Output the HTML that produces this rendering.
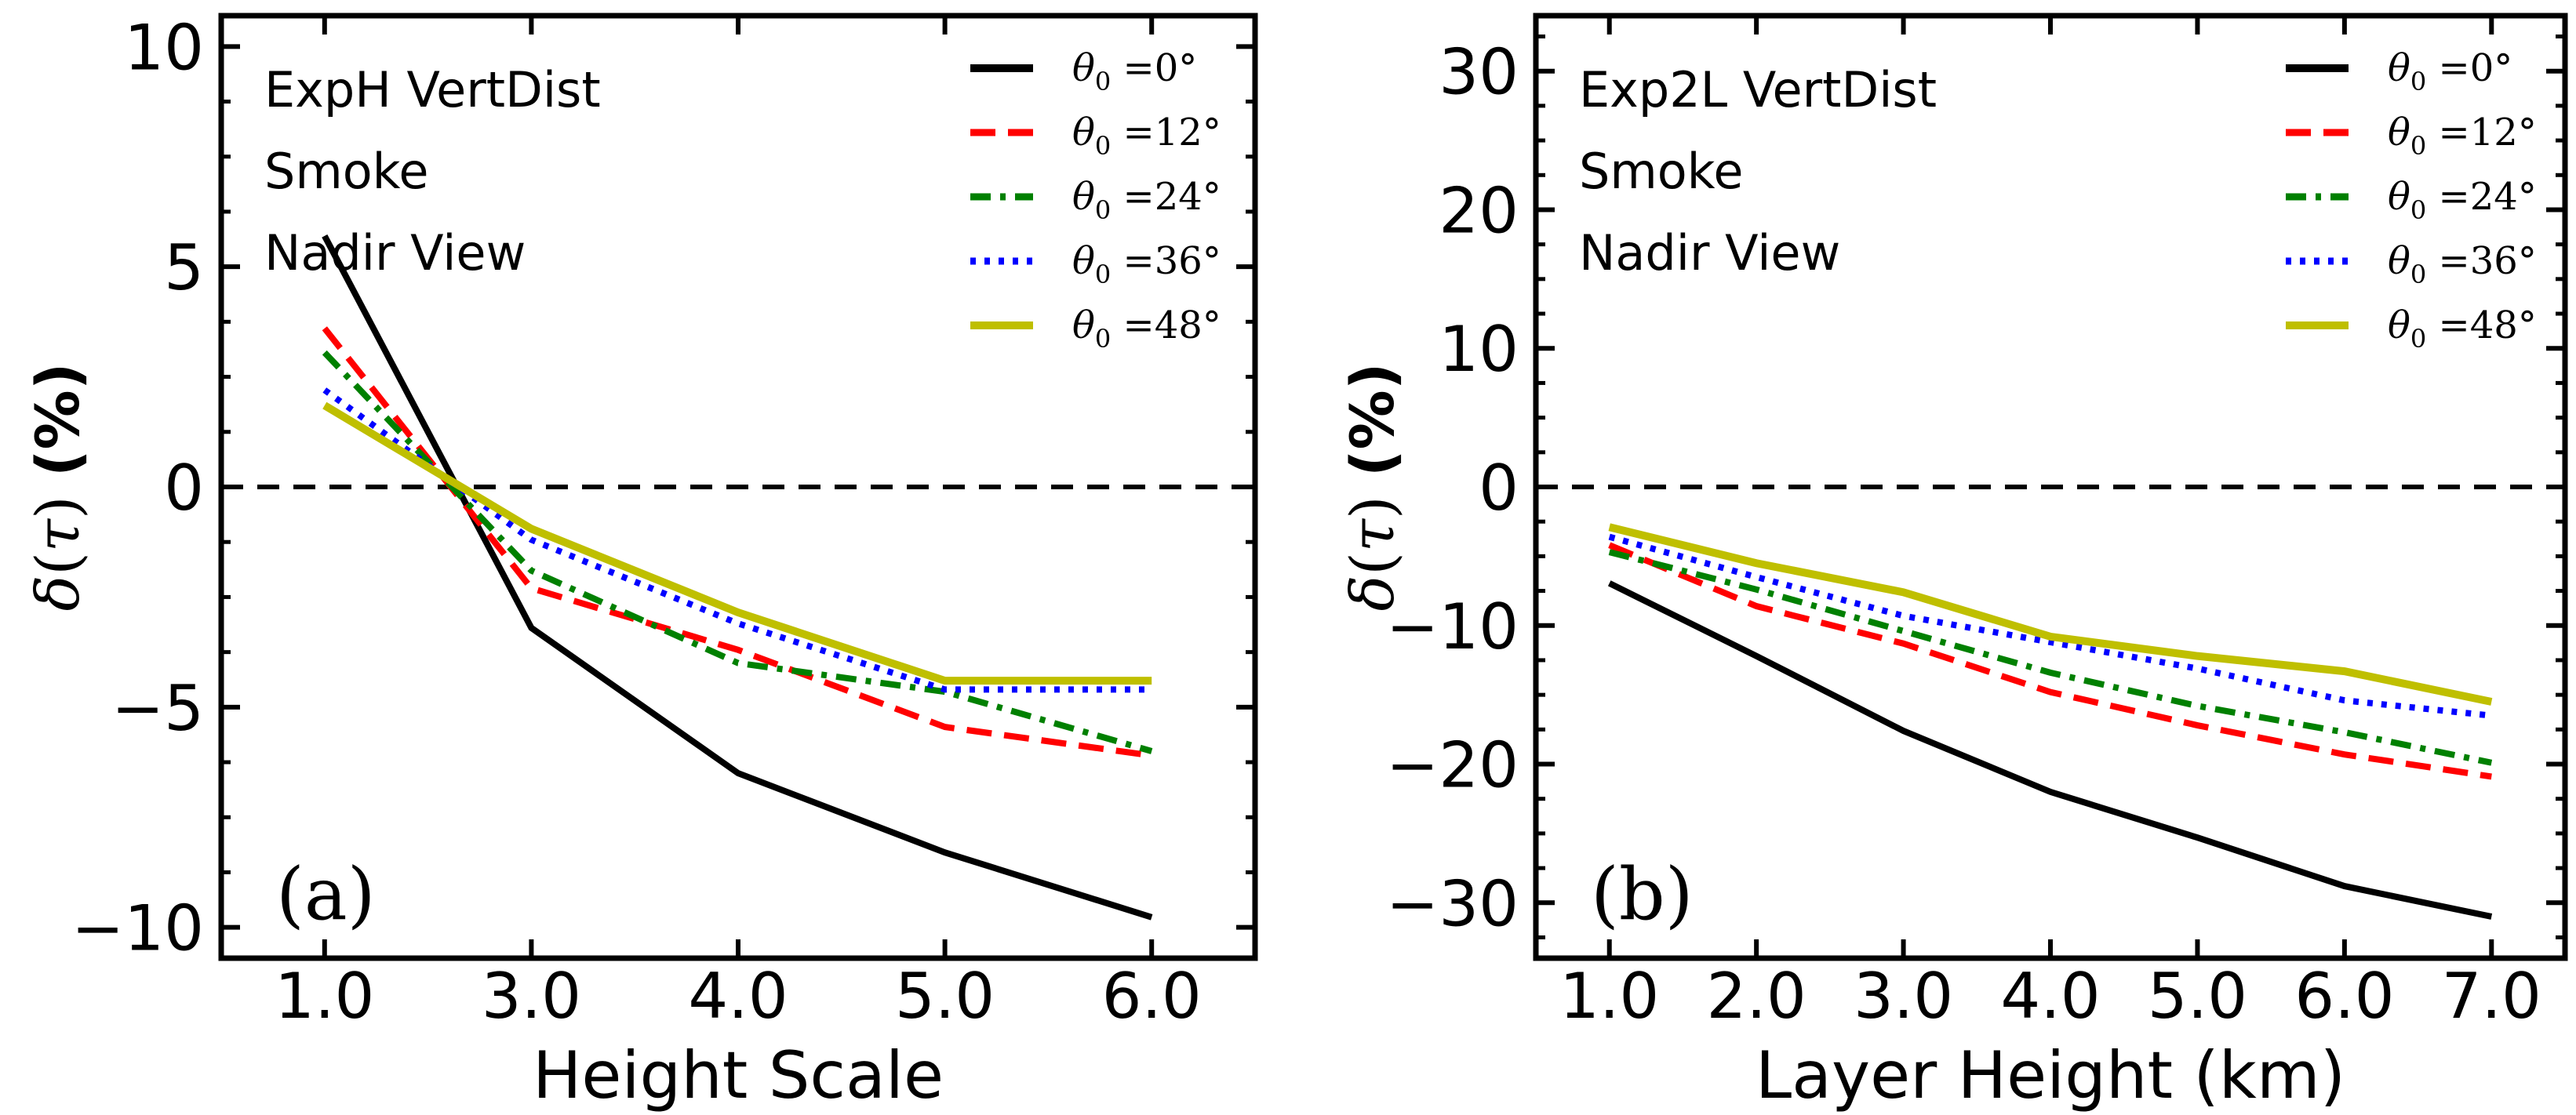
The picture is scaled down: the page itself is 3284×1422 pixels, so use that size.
<!DOCTYPE html>
<html><head><meta charset="utf-8"><style>
html,body{margin:0;padding:0;background:#fff}
svg{display:block}
text{font-family:"DejaVu Sans","Liberation Sans",sans-serif;fill:#000}
.serif{font-family:"DejaVu Serif","Liberation Serif",serif}
</style></head><body>
<svg id="chart" width="3284" height="1422" viewBox="0 0 3284 1422" xmlns="http://www.w3.org/2000/svg"></svg>
<script>
const seriesLabels = ["0","12","24","36","48"];
const catsA = ["1.0","3.0","4.0","5.0","6.0"];
const a0 = [5.7,-3.2,-6.5,-8.3,-9.77];
const a12 = [3.6,-2.3,-3.7,-5.45,-6.1];
const a24 = [3.05,-1.9,-4.0,-4.65,-6.0];
const a36 = [2.2,-1.2,-3.1,-4.6,-4.6];
const a48 = [1.85,-0.95,-2.85,-4.4,-4.4];
const catsB = ["1.0","2.0","3.0","4.0","5.0","6.0","7.0"];
const b0 = [-6.95,-12.2,-17.6,-22,-25.3,-28.8,-31];
const b12 = [-4.2,-8.6,-11.3,-14.8,-17.2,-19.3,-20.9];
const b24 = [-4.7,-7.4,-10.4,-13.4,-15.8,-17.7,-19.9];
const b36 = [-3.6,-6.5,-9.3,-11.2,-13.1,-15.4,-16.5];
const b48 = [-2.9,-5.5,-7.6,-10.8,-12.2,-13.3,-15.5];
const yTicksA = [10,5,0,-5,-10];
const yTicksB = [30,20,10,0,-10,-20,-30];

const NS="http://www.w3.org/2000/svg";
const svg=document.getElementById('chart');
function mk(tag,attrs,parent){const e=document.createElementNS(NS,tag);for(const k in attrs)e.setAttribute(k,attrs[k]);(parent||svg).appendChild(e);return e;}
const styles=[
 {c:"#000",d:""},
 {c:"#ff0000",d:"32 16"},
 {c:"#008000",d:"26 12 7 12"},
 {c:"#0000ff",d:"7 11"},
 {c:"#bfbf00",d:""}
];
function panel(id,L,R,T,B,cats,series,ymin,ymax,yticks,minorStep,xlabel,ann,tag,legX){
  const g=mk('g',{});
  
  
  const n=cats.length;
  const xs=i=>L+(i+0.5)/n*(R-L);
  const ys=v=>T+(ymax-v)/(ymax-ymin)*(B-T);
  const z=mk('line',{x1:L,x2:R,y1:ys(0),y2:ys(0),stroke:"#000","stroke-width":6,"stroke-dasharray":"28 18"},g);
  
  
  series.forEach((s,k)=>{
    const p=mk('polyline',{points:s.map((v,i)=>xs(i)+","+ys(v)).join(" "),fill:"none",stroke:styles[k].c,"stroke-width":k==4?10:8,"stroke-dasharray":styles[k].d},g);
    
    
  });
  cats.forEach((c,i)=>{
    const x=xs(i);
    mk('line',{x1:x,x2:x,y1:B,y2:B-24,stroke:"#000","stroke-width":6},g);
    mk('line',{x1:x,x2:x,y1:T,y2:T+24,stroke:"#000","stroke-width":6},g);
    const t=mk('text',{x:x,y:B+76,"font-size":80,"text-anchor":"middle"},g);
    t.textContent=c;
    
    
  });
  for(let v=Math.ceil(ymin/minorStep)*minorStep;v<=ymax;v+=minorStep){
    const y=ys(v);
    mk('line',{x1:L,x2:L+12,y1:y,y2:y,stroke:"#000","stroke-width":5},g);
    mk('line',{x1:R,x2:R-12,y1:y,y2:y,stroke:"#000","stroke-width":5},g);
  }
  yticks.forEach(v=>{
    const y=ys(v);
    mk('line',{x1:L,x2:L+24,y1:y,y2:y,stroke:"#000","stroke-width":6},g);
    mk('line',{x1:R,x2:R-24,y1:y,y2:y,stroke:"#000","stroke-width":6},g);
    const t=mk('text',{x:L-22,y:y+29,"font-size":80,"text-anchor":"end"},g);
    t.textContent=v<0?"\u2212"+(-v):String(v);
    
    
  });
  const fr=mk('rect',{x:L,y:T,width:R-L,height:B-T,fill:"none",stroke:"#000","stroke-width":7},g);
  
  
  ann.forEach((s,i)=>{
    const t=mk('text',{x:L+55,y:136+i*104,"font-size":62},g);
    t.textContent=s;
    
    
  });
  const tg=mk('text',{x:L+70,y:B-50,"font-size":92,"class":"serif"},g);
  tg.textContent=tag;
  
  
  seriesLabels.forEach((s,k)=>{
    const y=87+k*82;
    const l=mk('line',{x1:legX,x2:legX+80,y1:y,y2:y,stroke:styles[k].c,"stroke-width":k==0||k==4?10:9,"stroke-dasharray":styles[k].d},g);
    
    
    const t=mk('text',{x:legX+130,y:y+16,"font-size":48,"class":"serif"},g);
    t.innerHTML='<tspan font-style="italic">θ</tspan><tspan font-size="32" dy="12">0</tspan><tspan dy="-12"> =' + s + '°</tspan>';
    
    
  });
  const xl=mk('text',{x:(L+R)/2,y:1400,"font-size":83,"text-anchor":"middle"},g);
  xl.textContent=xlabel;
  
  
  const yl=mk('text',{x:0,y:0,"font-size":76,"text-anchor":"middle",transform:`translate(${L-182},${(T+B)/2}) rotate(-90)`},g);
  yl.innerHTML='<tspan class="serif" font-style="italic">δ</tspan><tspan class="serif">(</tspan><tspan class="serif" font-style="italic">τ</tspan><tspan class="serif">)</tspan> <tspan font-weight="bold">(%)</tspan>';
  
  
}
panel('a',282,1600,20,1222,catsA,[a0,a12,a24,a36,a48],-10.7,10.7,yTicksA,1.25,"Height Scale",["ExpH VertDist","Smoke","Nadir View"],"(a)",1237);
panel('b',1958,3270,20,1222,catsB,[b0,b12,b24,b36,b48],-34,34,yTicksB,2.5,"Layer Height (km)",["Exp2L VertDist","Smoke","Nadir View"],"(b)",2914);
</script>
</body></html>
